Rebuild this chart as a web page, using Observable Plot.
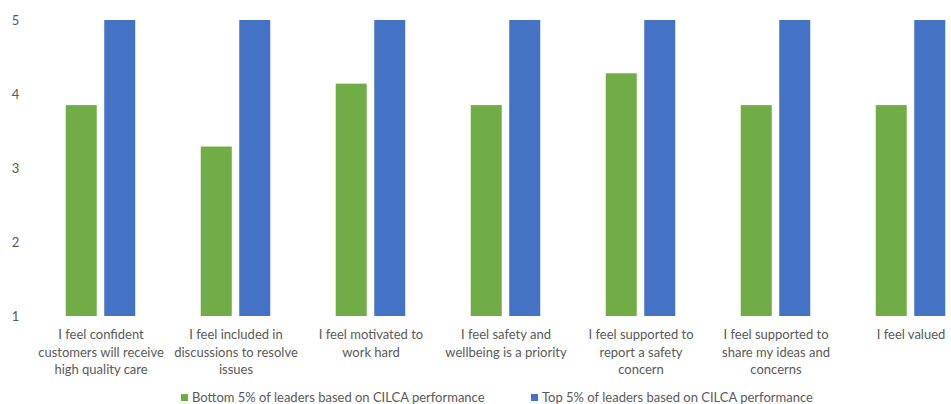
<!DOCTYPE html>
<html>
<head>
<meta charset="utf-8">
<script src="https://cdn.jsdelivr.net/npm/d3@7"></script>
<script src="https://cdn.jsdelivr.net/npm/@observablehq/plot@0.6"></script>
<style>
  html, body { margin: 0; padding: 0; background: #fff; overflow: hidden; }
  body { width: 951px; height: 404px; font-family: Lato, "Liberation Sans", sans-serif; }
  #chart svg { display: block; overflow: hidden; }
  .legend { position: absolute; top: 389px; left: 0; width: 951px; font-size: 13px; color: #595959; font-family: Lato, sans-serif; }
  .item { position: absolute; top: 0; white-space: nowrap; }
  .sw { display: inline-block; width: 7px; height: 7px; margin-right: 4px; vertical-align: 1px; }
</style>
</head>
<body>
<div id="chart"></div>
<div class="legend">
  <span class="item" style="left:181px"><span class="sw" style="background:#70AD47"></span><span id="l0"></span></span>
  <span class="item" style="left:531px"><span class="sw" style="background:#4472C4"></span><span id="l1"></span></span>
</div>
<script>
const categories = [
  "I feel confident\ncustomers will receive\nhigh quality care",
  "I feel included in\ndiscussions to resolve\nissues",
  "I feel motivated to\nwork hard",
  "I feel safety and\nwellbeing is a priority",
  "I feel supported to\nreport a safety\nconcern",
  "I feel supported to\nshare my ideas and\nconcerns",
  "I feel valued"
];
const seriesNames = [
  "Bottom 5% of leaders based on CILCA performance",
  "Top 5% of leaders based on CILCA performance"
];
const bottomValues = [3.85, 3.29, 4.14, 3.85, 4.28, 3.85, 3.85];
const topValues = [5, 5, 5, 5, 5, 5, 5];
const yTicks = [1, 2, 3, 4, 5];
const colors = ["#70AD47", "#4472C4"];

const data = [];
categories.forEach((c, i) => {
  data.push({q: c, s: seriesNames[0], v: bottomValues[i]});
  data.push({q: c, s: seriesNames[1], v: topValues[i]});
});

document.getElementById("l0").textContent = seriesNames[0];
document.getElementById("l1").textContent = seriesNames[1];

const barW = 31, off = 19.25, band = 135;
const inset = (band - barW) / 2;

const chart = Plot.plot({
  width: 951,
  height: 385,
  marginTop: 20,
  marginBottom: 69,
  marginLeft: 33,
  marginRight: 0,
  style: {fontFamily: "Lato, 'Liberation Sans', sans-serif", fontSize: "13px", color: "#595959", background: "#fff"},
  x: {domain: categories, range: [33, 978], padding: 0, label: null, axis: null},
  y: {domain: [1, 5], range: [316, 20], label: null, axis: null},
  marks: [
    Plot.ruleY(yTicks, {stroke: "#d9d9d9", strokeWidth: 1, x1: 33, x2: 951}),
    Plot.barY(data.filter(d => d.s === seriesNames[0]), {x: "q", y1: 1, y2: "v", fill: colors[0], insetLeft: inset, insetRight: inset, dx: -off}),
    Plot.barY(data.filter(d => d.s === seriesNames[1]), {x: "q", y1: 1, y2: "v", fill: colors[1], insetLeft: inset, insetRight: inset, dx: off}),
    Plot.axisY({ticks: yTicks, tickFormat: d3.format("d"), tickSize: 0, tickPadding: 0, dx: -18, textAnchor: "middle", fill: "#595959", fontSize: 13, label: null}),
    Plot.text(categories, {x: d => d, y: 1, dy: 10, lineHeight: 1.35, fill: "#595959", fontSize: 13, lineAnchor: "top", textAnchor: "middle"})
  ]
});
document.getElementById("chart").appendChild(chart);
</script>
</body>
</html>
